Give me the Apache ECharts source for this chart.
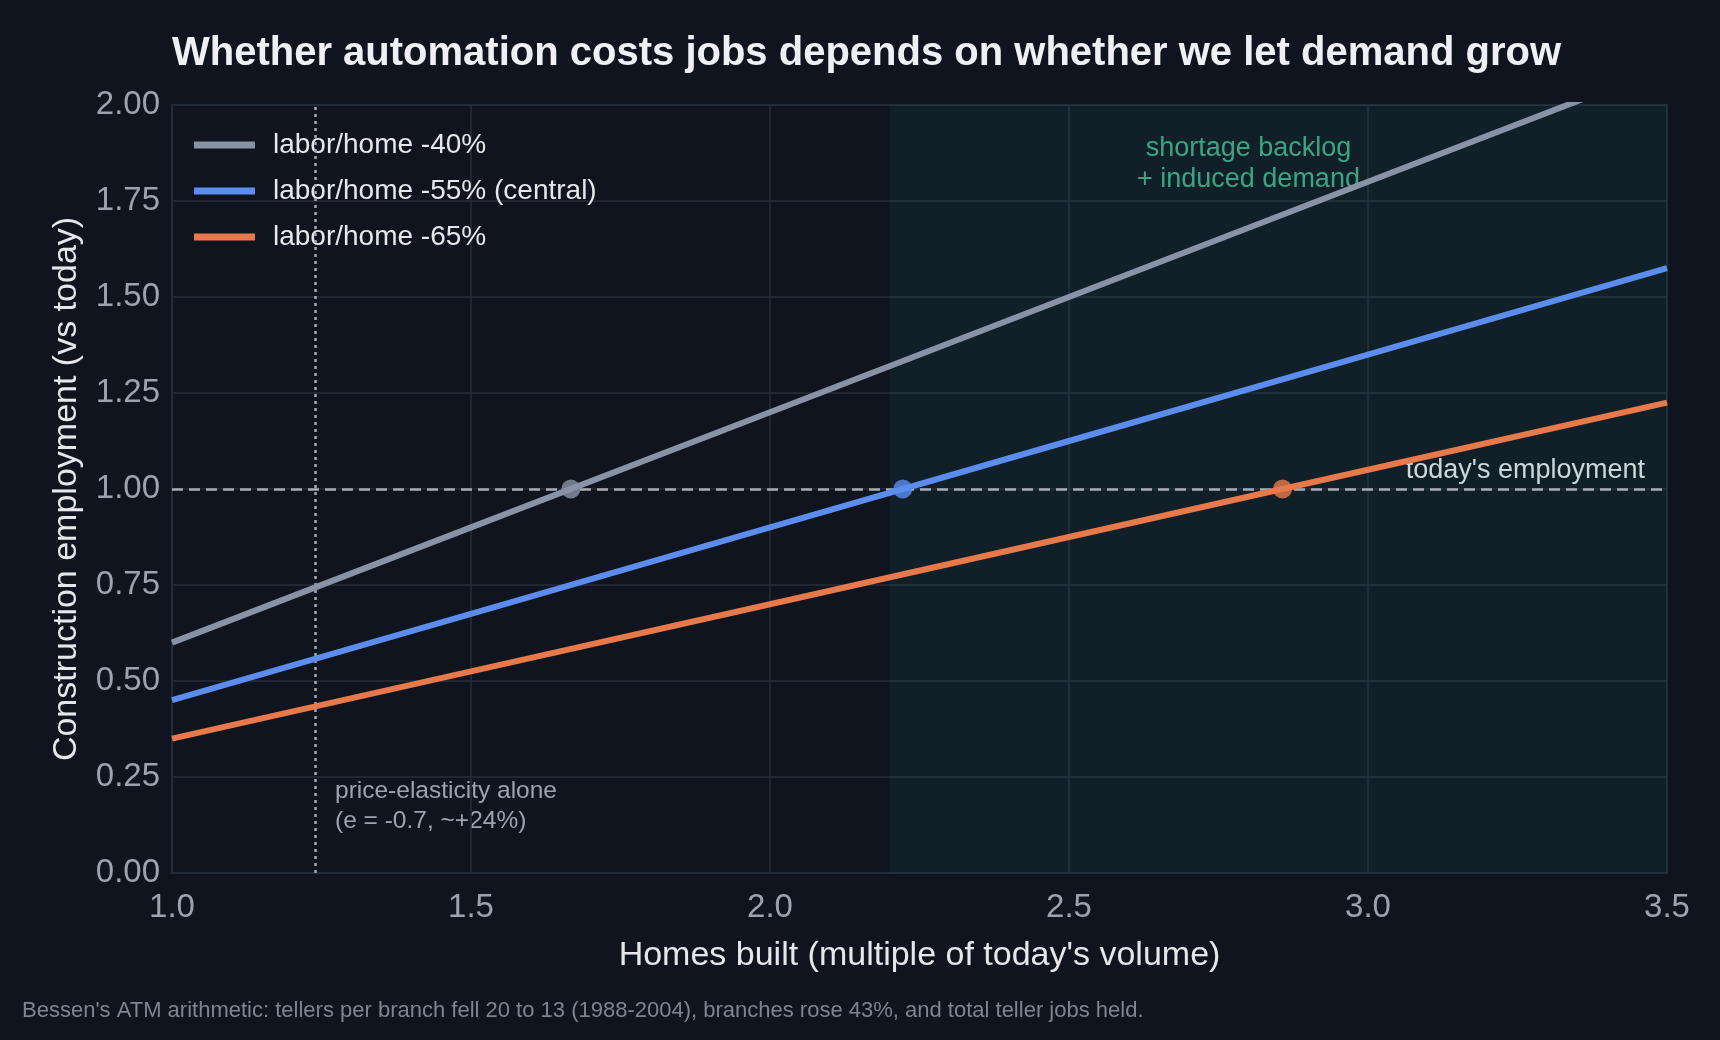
<!DOCTYPE html>
<html>
<head>
<meta charset="utf-8">
<script src="https://cdn.jsdelivr.net/npm/echarts@6/dist/echarts.min.js"></script>
<style>
  html, body { margin: 0; padding: 0; background: #10141e; }
  #chart { width: 1720px; height: 1040px; }
</style>
</head>
<body>
<div id="chart"></div>
<script>
const font = 'Liberation Sans, Arial, sans-serif'

// homes built, multiple of today's volume
const homesBuilt = [1.0, 1.5, 2.0, 2.5, 3.0, 3.5]
// construction employment vs today
const labor40 = [0.60, 0.90, 1.20, 1.50, 1.80, 2.10]
const labor55 = [0.45, 0.675, 0.90, 1.125, 1.35, 1.575]
const labor65 = [0.35, 0.525, 0.70, 0.875, 1.05, 1.225]
// where each line reaches today's employment
const breakEven = [1.667, 2.222, 2.857]
const seriesNames = ['labor/home -40%', 'labor/home -55% (central)', 'labor/home -65%']
const seriesColors = ['#8a93a6', '#5b8def', '#e8794a']
const shortageStart = 2.2
const elasticityLine = 1.24

const pairs = (ys) => homesBuilt.map((x, i) => [x, ys[i]])

const chart = echarts.init(document.getElementById('chart'))

const lineSeries = [labor40, labor55, labor65].map((ys, i) => ({
  name: seriesNames[i],
  type: 'line',
  data: pairs(ys),
  showSymbol: false,
  clip: true,
  z: 5,
  lineStyle: { color: seriesColors[i], width: 6 },
  itemStyle: { color: seriesColors[i] },
}))

const option = {
  backgroundColor: '#10141e',
  animation: false,
  title: {
    text: 'Whether automation costs jobs depends on whether we let demand grow',
    left: 167,
    top: 29,
    textStyle: { color: '#eef0f4', fontSize: 40, fontWeight: 'bold', fontFamily: font },
  },
  legend: {
    data: seriesNames,
    orient: 'vertical',
    left: 189,
    top: 126,
    icon: 'rect',
    itemWidth: 61,
    itemHeight: 7,
    itemGap: 18,
    textStyle: { color: '#e5e7eb', fontSize: 28, fontFamily: font, padding: [0, 0, 0, 13] },
  },
  grid: {
    left: 172,
    right: 53,
    top: 105,
    bottom: 167,
    show: true,
    borderColor: '#2a3140',
    borderWidth: 1.5,
  },
  xAxis: {
    type: 'value',
    min: 1,
    max: 3.5,
    interval: 0.5,
    name: "Homes built (multiple of today's volume)",
    nameLocation: 'middle',
    nameGap: 66,
    nameTextStyle: { color: '#e5e7eb', fontSize: 34, fontFamily: font },
    axisLine: { show: false },
    axisTick: { show: false },
    axisLabel: {
      color: '#9ca3af',
      fontSize: 33,
      fontFamily: font,
      margin: 18,
      formatter: (v) => v.toFixed(1),
    },
    splitLine: { lineStyle: { color: '#262d3a', width: 1.5 } },
  },
  yAxis: {
    type: 'value',
    min: 0,
    max: 2,
    interval: 0.25,
    name: 'Construction employment (vs today)',
    nameLocation: 'middle',
    nameGap: 88,
    nameTextStyle: { color: '#e5e7eb', fontSize: 34, fontFamily: font },
    axisLine: { show: false },
    axisTick: { show: false },
    axisLabel: {
      color: '#9ca3af',
      fontSize: 33,
      fontFamily: font,
      margin: 12,
      formatter: (v) => v.toFixed(2),
    },
    splitLine: { lineStyle: { color: '#262d3a', width: 1.5 } },
  },
  series: [
    {
      type: 'line',
      data: [],
      silent: true,
      markArea: {
        silent: true,
        itemStyle: { color: 'rgba(30,110,110,0.13)' },
        data: [[{ xAxis: shortageStart }, { xAxis: 3.5 }]],
      },
      markLine: {
        silent: true,
        symbol: 'none',
        label: { show: false },
        data: [
          { xAxis: elasticityLine, lineStyle: { color: '#a3a9b3', width: 2.5, type: [3, 4] } },
          { yAxis: 1, lineStyle: { color: '#a9adb5', width: 2.5, type: [11, 6] } },
        ],
      },
      z: 1,
    },
    ...lineSeries,
    {
      type: 'scatter',
      symbolSize: 19,
      z: 6,
      data: breakEven.map((x, i) => ({ value: [x, 1], itemStyle: { color: seriesColors[i] } })),
    },
  ],
  graphic: [
    {
      type: 'text',
      right: 75,
      top: 457,
      style: { text: "today's employment", fill: '#e5e7eb', fontSize: 27, fontFamily: font, textAlign: 'right' },
    },
    {
      type: 'text',
      left: 1137,
      top: 133,
      style: {
        text: 'shortage backlog\n+ induced demand',
        fill: '#3fae89',
        fontSize: 27,
        lineHeight: 31,
        fontFamily: font,
        textAlign: 'center',
      },
    },
    {
      type: 'text',
      left: 335,
      top: 776,
      style: {
        text: 'price-elasticity alone\n(e = -0.7, ~+24%)',
        fill: '#9ca3af',
        fontSize: 24.5,
        lineHeight: 30,
        fontFamily: font,
      },
    },
    {
      type: 'text',
      left: 22,
      top: 1000,
      style: {
        text: "Bessen's ATM arithmetic: tellers per branch fell 20 to 13 (1988-2004), branches rose 43%, and total teller jobs held.",
        fill: '#7d8590',
        fontSize: 22,
        fontFamily: font,
      },
    },
  ],
}

chart.setOption(option)
</script>
</body>
</html>
